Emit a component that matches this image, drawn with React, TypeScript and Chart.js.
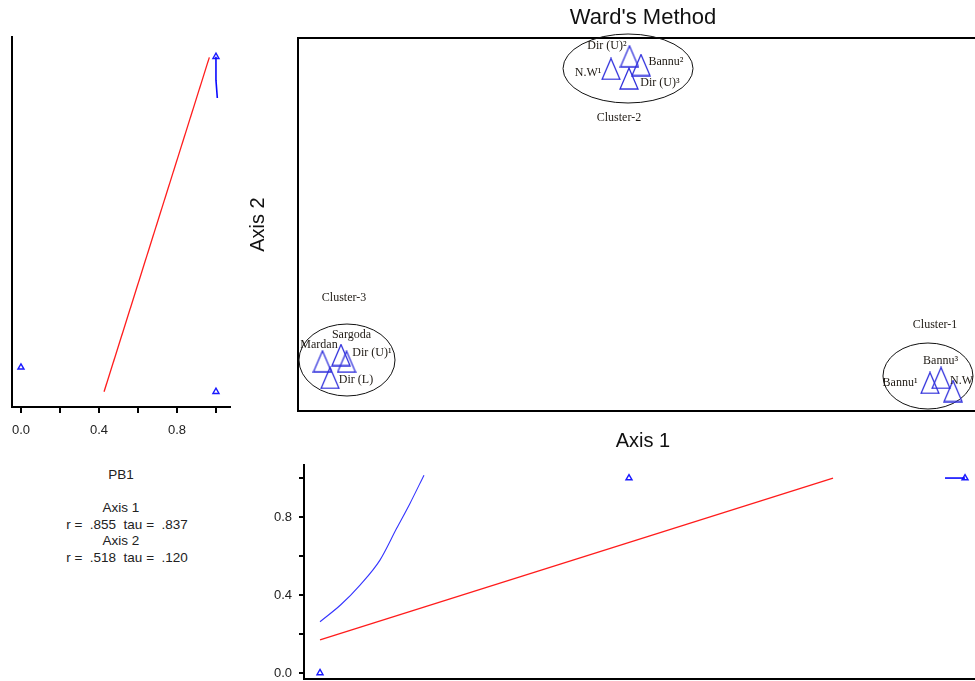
import React, { useEffect, useRef } from "react";
import { Chart, registerables } from "chart.js";

Chart.register(...registerables);

// ---------------- data ----------------
// Ordination scores of the sites (Axis 1, Axis 2)
const siteLabels = ["Dir (U)²", "N.W¹", "Bannu²", "Dir (U)³", "Mardan", "Sargoda", "Dir (U)¹", "Dir (L)", "Bannu³", "Bannu¹", "N.W"];
const axis1Scores = [48.04, 45.36, 49.71, 47.97, 3.55, 6.23, 7.03, 4.64, 93.19, 91.59, 94.93];
const axis2Scores = [95.09, 91.69, 92.76, 89.14, 13.32, 15.01, 13.22, 8.85, 8.85, 7.51, 5.36];
// where each site's name is written (data units)
const labelAxis1 = [44.78, 42.03, 53.33, 52.46, 3.04, 7.75, 10.72, 8.41, 93.12, 87.25, 96.16];
const labelAxis2 = [97.86, 90.62, 93.57, 87.94, 17.69, 20.38, 15.55, 8.31, 13.4, 7.51, 8.04];

// Clusters (Ward's method): ellipse centre and half-extent in data units
const clusterNames = ["Cluster-1", "Cluster-2", "Cluster-3"];
const clusterCenterAxis1 = [91.3, 47.83, 7.1];
const clusterCenterAxis2 = [9.38, 91.82, 13.67];
const clusterSpreadAxis1 = [6.52, 9.42, 6.96];
const clusterSpreadAxis2 = [8.85, 9.25, 9.65];
const clusterLabelAxis1 = [92.32, 46.52, 6.67];
const clusterLabelAxis2 = [23.06, 78.55, 30.29];

// PB1 overlay points
const pb1Values = [0, 1, 1];
const pb1Axis2Points = [11.72, 5.17, 94.99];
const pb1Axis1Points = [3.19, 47.97, 96.67];

// Left panel (PB1 vs Axis 2)
const leftLinearPB1 = [0.426, 0.966];
const leftLinearAxis2 = [5.17, 94.8];
const leftSmoothPB1 = [1.0, 1.0, 1.007];
const leftSmoothAxis2 = [94.99, 88.7, 83.9];

// Bottom panel (Axis 1 vs PB1)
const bottomLinearAxis1 = [3.19, 77.54];
const bottomLinearPB1 = [0.17, 1.0];
const bottomSmoothAxis1 = [3.19, 6.2, 8.99, 11.88, 14.3, 16.23, 18.26];
const bottomSmoothPB1 = [0.263, 0.35, 0.451, 0.579, 0.742, 0.87, 1.015];
const bottomSmooth2Axis1 = [93.77, 96.67];
const bottomSmooth2PB1 = [1.0, 1.0];

// PB1 axis ticks
const pbTickValues = [0, 0.2, 0.4, 0.6, 0.8, 1.0];
const pbTickLabels = ["0.0", "", "0.4", "", "0.8", ""];

// Statistics text
const statVariable = "PB1";
const statAxisNames = ["Axis 1", "Axis 2"];
const statR = [".855", ".518"];
const statTau = [".837", ".120"];

// ---------------- helpers ----------------
const SANS = '"Liberation Sans", Arial, sans-serif';
const SERIF = '"Liberation Serif", "Times New Roman", serif';

function makeTriangle(): HTMLCanvasElement {
  const c = document.createElement("canvas");
  c.width = 20;
  c.height = 23;
  const g = c.getContext("2d") as CanvasRenderingContext2D;
  g.strokeStyle = "rgb(48,48,220)";
  g.lineWidth = 1.3;
  g.beginPath();
  g.moveTo(10, 1);
  g.lineTo(19, 22);
  g.lineTo(1, 22);
  g.closePath();
  g.stroke();
  return c;
}

const hidden = {
  ticks: { display: false },
  grid: { display: false, drawTicks: false },
  border: { display: true, color: "#000", width: 2 },
};

const ellipsePlugin = {
  id: "clusterEllipses",
  beforeDatasetsDraw(chart: any) {
    const { ctx, scales } = chart;
    const xs = scales.x;
    const ys = scales.y;
    ctx.save();
    ctx.strokeStyle = "#111";
    ctx.lineWidth = 1;
    clusterNames.forEach((_, i) => {
      const cx = xs.getPixelForValue(clusterCenterAxis1[i]);
      const cy = ys.getPixelForValue(clusterCenterAxis2[i]);
      const rx = Math.abs(xs.getPixelForValue(clusterCenterAxis1[i] + clusterSpreadAxis1[i]) - cx);
      const ry = Math.abs(ys.getPixelForValue(clusterCenterAxis2[i] + clusterSpreadAxis2[i]) - cy);
      ctx.beginPath();
      ctx.ellipse(cx, cy, rx, ry, 0, 0, Math.PI * 2);
      ctx.stroke();
    });
    ctx.restore();
  },
  afterDatasetsDraw(chart: any) {
    const { ctx, scales } = chart;
    const xs = scales.x;
    const ys = scales.y;
    ctx.save();
    ctx.fillStyle = "#1f1a14";
    ctx.textAlign = "center";
    ctx.textBaseline = "middle";
    ctx.font = `12px ${SERIF}`;
    siteLabels.forEach((t, i) => {
      ctx.fillText(t, xs.getPixelForValue(labelAxis1[i]), ys.getPixelForValue(labelAxis2[i]));
    });
    clusterNames.forEach((t, i) => {
      ctx.fillText(t, xs.getPixelForValue(clusterLabelAxis1[i]), ys.getPixelForValue(clusterLabelAxis2[i]));
    });
    ctx.restore();
  },
};

export default function App() {
  const mainRef = useRef<HTMLCanvasElement>(null);
  const leftRef = useRef<HTMLCanvasElement>(null);
  const bottomRef = useRef<HTMLCanvasElement>(null);

  useEffect(() => {
    const tri = makeTriangle();
    const common: any = {
      responsive: false,
      animation: false,
      events: [],
    };
    const noPlugins = { legend: { display: false }, tooltip: { enabled: false } };

    const main = new Chart(mainRef.current as HTMLCanvasElement, {
      type: "scatter",
      data: {
        datasets: [
          {
            data: axis1Scores.map((v, i) => ({ x: v, y: axis2Scores[i] })),
            pointStyle: tri as any,
            pointRadius: 10,
            pointHoverRadius: 10,
            clip: false as any,
          },
        ],
      },
      options: {
        ...common,
        layout: { padding: { left: 16, right: 22, top: 0, bottom: 7 } },
        plugins: {
          ...noPlugins,
          title: {
            display: true,
            text: "Ward's Method",
            fullSize: false,
            color: "#111",
            font: { family: SANS, size: 22, weight: "normal" as any },
            padding: { top: 4.8, bottom: 6.8 },
          },
        },
        scales: {
          x: {
            type: "linear",
            position: "bottom",
            min: 0,
            max: 100,
            ...hidden,
            title: {
              display: true,
              text: "Axis 1",
              color: "#111",
              font: { family: SANS, size: 20 },
              padding: { top: 18, bottom: 0 },
            },
          },
          xTop: { type: "linear", position: "top", min: 0, max: 100, ...hidden },
          y: {
            type: "linear",
            position: "left",
            min: 0,
            max: 100,
            ...hidden,
            title: {
              display: true,
              text: "Axis 2",
              color: "#111",
              font: { family: SANS, size: 20 },
              padding: { top: 0, bottom: 28 },
            },
          },
          yRight: { type: "linear", position: "right", min: 0, max: 100, ...hidden },
        } as any,
      },
      plugins: [ellipsePlugin],
    });

    const tickFont = { family: SANS, size: 13 };

    const left = new Chart(leftRef.current as HTMLCanvasElement, {
      type: "scatter",
      data: {
        datasets: [
          {
            data: leftLinearPB1.map((v, i) => ({ x: v, y: leftLinearAxis2[i] })),
            showLine: true,
            borderColor: "#ff1c1c",
            borderWidth: 1.3,
            pointRadius: 0,
          },
          {
            data: leftSmoothPB1.map((v, i) => ({ x: v, y: leftSmoothAxis2[i] })),
            showLine: true,
            borderColor: "#0a0aff",
            borderWidth: 1.6,
            pointRadius: 0,
          },
          {
            data: pb1Values.map((v, i) => ({ x: v, y: pb1Axis2Points[i] })),
            pointStyle: "triangle",
            pointRadius: 3.5,
            borderColor: "#1a1aff",
            backgroundColor: "#fff",
            borderWidth: 1.4,
          },
        ],
      },
      options: {
        ...common,
        layout: { padding: { left: 12, top: 37, right: 10, bottom: 8 } },
        plugins: noPlugins,
        scales: {
          x: {
            type: "linear",
            min: -0.046,
            max: 1.072,
            afterBuildTicks: (axis: any) => {
              axis.ticks = pbTickValues.map((value) => ({ value }));
            },
            afterFit: (s: any) => {
              s.height = 30;
            },
            ticks: {
              callback: (_v: any, i: number) => pbTickLabels[i],
              font: tickFont,
              color: "#222",
              padding: 9.2,
              maxRotation: 0,
              autoSkip: false,
            },
            grid: { display: true, drawOnChartArea: false, drawTicks: true, tickLength: 6, color: "#000", lineWidth: 2 },
            border: { display: true, color: "#000", width: 2 },
          },
          y: { type: "linear", min: 1.07, max: 100.27, ...hidden },
        } as any,
      },
    });

    const bottom = new Chart(bottomRef.current as HTMLCanvasElement, {
      type: "scatter",
      data: {
        datasets: [
          {
            data: bottomLinearAxis1.map((v, i) => ({ x: v, y: bottomLinearPB1[i] })),
            showLine: true,
            borderColor: "#ff1c1c",
            borderWidth: 1.3,
            pointRadius: 0,
          },
          {
            data: bottomSmoothAxis1.map((v, i) => ({ x: v, y: bottomSmoothPB1[i] })),
            showLine: true,
            borderColor: "#3434ff",
            borderWidth: 1.1,
            cubicInterpolationMode: "monotone",
            pointRadius: 0,
          },
          {
            data: bottomSmooth2Axis1.map((v, i) => ({ x: v, y: bottomSmooth2PB1[i] })),
            showLine: true,
            borderColor: "#0a0aff",
            borderWidth: 1.6,
            pointRadius: 0,
          },
          {
            data: pb1Axis1Points.map((v, i) => ({ x: v, y: pb1Values[i] })),
            pointStyle: "triangle",
            pointRadius: 3.5,
            borderColor: "#1a1aff",
            backgroundColor: "#fff",
            borderWidth: 1.4,
          },
        ],
      },
      options: {
        ...common,
        layout: { padding: { left: 34, right: 12, top: 20, bottom: 20 } },
        plugins: noPlugins,
        scales: {
          x: { type: "linear", min: 0.87, max: 100, ...hidden },
          y: {
            type: "linear",
            min: -0.031,
            max: 1.067,
            afterBuildTicks: (axis: any) => {
              axis.ticks = pbTickValues.map((value) => ({ value }));
            },
            afterFit: (s: any) => {
              s.width = 30;
            },
            ticks: {
              callback: (_v: any, i: number) => pbTickLabels[i],
              font: tickFont,
              color: "#222",
              padding: 7,
              autoSkip: false,
            },
            grid: { display: true, drawOnChartArea: false, drawTicks: true, tickLength: 5, color: "#000", lineWidth: 2 },
            border: { display: true, color: "#000", width: 2 },
          },
        } as any,
      },
    });

    return () => {
      main.destroy();
      left.destroy();
      bottom.destroy();
    };
  }, []);

  const statStyle = (cx: number, cy: number): React.CSSProperties => ({
    position: "absolute",
    left: cx - 100,
    top: cy - 8,
    width: 200,
    height: 16,
    lineHeight: "16px",
    textAlign: "center",
    whiteSpace: "pre",
    fontFamily: SANS,
    fontSize: 13.5,
    color: "#222",
  });

  return (
    <div
      style={{
        position: "fixed",
        left: 0,
        top: 0,
        width: 975,
        height: 681,
        overflow: "hidden",
        background: "#fff",
      }}
    >
      <canvas
        ref={leftRef}
        width={240}
        height={445}
        style={{ position: "absolute", left: 0, top: 0, width: 240, height: 445 }}
      />
      <canvas
        ref={mainRef}
        width={780}
        height={460}
        style={{ position: "absolute", left: 230, top: 0, width: 780, height: 460 }}
      />
      <canvas
        ref={bottomRef}
        width={760}
        height={254}
        style={{ position: "absolute", left: 240, top: 445, width: 760, height: 254 }}
      />
      <div style={statStyle(121, 475)}>{statVariable}</div>
      <div style={statStyle(121, 508)}>{statAxisNames[0]}</div>
      <div style={statStyle(127, 525)}>{`r =  ${statR[0]}  tau =  ${statTau[0]}`}</div>
      <div style={statStyle(121, 541)}>{statAxisNames[1]}</div>
      <div style={statStyle(127, 558)}>{`r =  ${statR[1]}  tau =  ${statTau[1]}`}</div>
    </div>
  );
}
